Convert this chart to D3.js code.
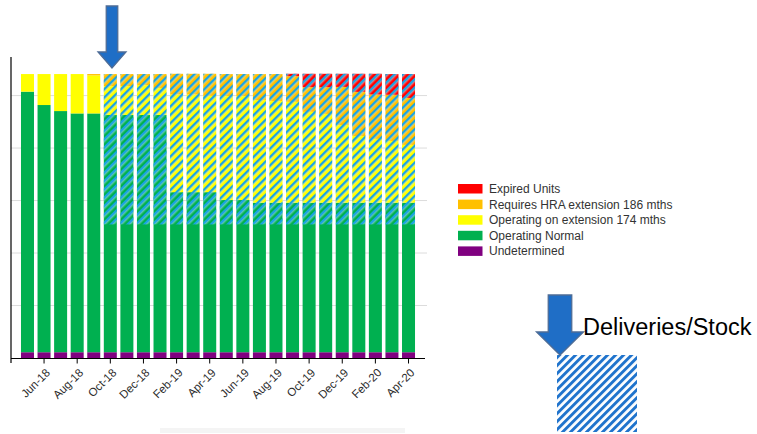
<!DOCTYPE html>
<html>
<head>
<meta charset="utf-8">
<script src="https://cdn.jsdelivr.net/npm/d3@7"></script>
<style>
  html, body { margin: 0; padding: 0; background: #fff; }
  svg { display: block; font-family: "Liberation Sans", Arial, sans-serif; }
</style>
</head>
<body>
<svg id="chart" width="757" height="434"></svg>
<script>
const months = ["May-18","Jun-18","Jul-18","Aug-18","Sep-18","Oct-18","Nov-18","Dec-18",
  "Jan-19","Feb-19","Mar-19","Apr-19","May-19","Jun-19","Jul-19","Aug-19","Sep-19","Oct-19",
  "Nov-19","Dec-19","Jan-20","Feb-20","Mar-20","Apr-20"];
const tickLabels = ["Jun-18","Aug-18","Oct-18","Dec-18","Feb-19","Apr-19","Jun-19","Aug-19",
  "Oct-19","Dec-19","Feb-20","Apr-20"];
const undetermined = [2.2,2.2,2.2,2.2,2.2,2.2,2.2,2.2,2.2,2.2,2.2,2.2,2.2,2.2,2.2,2.2,2.2,2.2,2.2,2.2,2.2,2.2,2.2,2.2];
const operatingNormal = [99.3,94.2,91.9,91.0,91.0,90.4,90.4,90.4,90.4,61.0,61.0,61.0,58.0,58.0,57.0,57.0,57.0,57.0,57.0,57.0,57.0,57.0,57.0,57.0];
const operatingExtension = [6.7,11.8,14.1,15.0,14.5,11.0,11.0,11.4,10.3,37.2,37.2,36.7,39.6,39.6,39.1,38.7,38.4,34.6,33.8,29.6,25.4,24.3,23.5,22.0];
const requiresHRA = [0,0,0,0,0.5,4.6,4.6,4.2,5.3,7.9,7.9,8.4,8.4,8.4,9.9,10.3,9.8,9.4,10.2,14.5,16.8,16.9,17.6,17.9];
const expiredUnits = [0,0,0,0,0,0,0,0,0,0,0,0,0,0,0,0,0.9,5.1,5.1,5.0,6.9,7.9,7.9,9.1];
// Deliveries/Stock hatched overlay: start value per month (null = none), up to the bar top
const stockFrom = [null,null,null,null,null,50.9,50.9,50.9,50.9,50.9,50.9,50.9,50.9,50.9,50.9,50.9,50.9,50.9,50.9,50.9,50.9,50.9,50.9,50.9];
const gridValues = [20,40,60,80,100];
const legendLabels = ["Expired Units","Requires HRA extension 186 mths","Operating on extension 174 mths","Operating Normal","Undetermined"];
const annotationText = "Deliveries/Stock";

const keys = ["undetermined","normal","extension","hra","expired"];
const colors = {undetermined:"#800080", normal:"#00B050", extension:"#FFFF00", hra:"#FFC000", expired:"#FF0000"};
const legendKeys = ["expired","hra","extension","normal","undetermined"];

const rows = months.map((m,i) => ({
  month: m, undetermined: undetermined[i], normal: operatingNormal[i],
  extension: operatingExtension[i], hra: requiresHRA[i], expired: expiredUnits[i], stockFrom: stockFrom[i]
}));

const svg = d3.select("#chart");
const x = d3.scaleBand().domain(months).range([19.2, 416.8]).paddingInner(0.215).paddingOuter(0.1075);
const y = d3.scaleLinear().domain([0, 114.7]).range([358, 57]);

const defs = svg.append("defs");
const p1 = defs.append("pattern").attr("id","hatchChart").attr("patternUnits","userSpaceOnUse")
  .attr("width",5.9).attr("height",10).attr("patternTransform","rotate(45)");
p1.append("rect").attr("x",0).attr("y",0).attr("width",2.6).attr("height",10).attr("fill","#1AA3E3");
p1.append("rect").attr("x",2.6).attr("y",0).attr("width",0.6).attr("height",10).attr("fill","#ffffff").attr("opacity",0.8);
const p2 = defs.append("pattern").attr("id","hatchSquare").attr("patternUnits","userSpaceOnUse")
  .attr("width",5.66).attr("height",10).attr("patternTransform","rotate(45)");
p2.append("rect").attr("width",5.66).attr("height",10).attr("fill","#fff");
p2.append("rect").attr("x",0).attr("y",0).attr("width",2.9).attr("height",10).attr("fill","#1F73CC");

// gridlines
svg.append("g").selectAll("line").data(gridValues).join("line")
  .attr("x1", 11).attr("x2", 427).attr("y1", d => y(d)).attr("y2", d => y(d))
  .attr("stroke","#dcdcdc").attr("stroke-width",1);

// stacked bars
const stacked = d3.stack().keys(keys)(rows);
svg.append("g").selectAll("g").data(stacked).join("g")
  .attr("fill", d => colors[d.key])
  .selectAll("rect").data(d => d.filter(s => s[1] - s[0] > 0)).join("rect")
  .attr("x", d => x(d.data.month)).attr("width", x.bandwidth())
  .attr("y", d => y(d[1])).attr("height", d => y(d[0]) - y(d[1]));

// hatch overlay
const topLayer = stacked[stacked.length-1];
svg.append("g").selectAll("rect").data(rows.filter(r => r.stockFrom != null)).join("rect")
  .attr("x", d => x(d.month)).attr("width", x.bandwidth())
  .attr("y", d => y(topLayer[months.indexOf(d.month)][1]))
  .attr("height", d => y(d.stockFrom) - y(topLayer[months.indexOf(d.month)][1]))
  .attr("fill","url(#hatchChart)");

// axes
svg.append("line").attr("x1",11).attr("x2",11).attr("y1",57).attr("y2",363).attr("stroke","#000").attr("stroke-width",1.2);
const xAxis = svg.append("g").attr("transform","translate(0,358.5)")
  .call(d3.axisBottom(x).tickValues(tickLabels).tickSize(5).tickSizeOuter(0).tickFormat(d => d));
xAxis.select(".domain").attr("d","M11,0H425").attr("stroke","#000").attr("stroke-width",1.2);
xAxis.selectAll(".tick line").attr("stroke","#000");
xAxis.selectAll(".tick text")
  .attr("font-size", 11.5).attr("fill","#2b2b2b").attr("font-family","Liberation Sans, Arial, sans-serif")
  .attr("text-anchor","end").attr("dy","0.35em")
  .attr("transform","translate(4,12) rotate(-45)").attr("y",0).attr("x",0);

// legend
const lg = svg.append("g").attr("transform","translate(458,184)");
const li = lg.selectAll("g").data(legendKeys).join("g").attr("transform",(d,i)=>`translate(0,${i*15.6})`);
li.append("rect").attr("width",24.5).attr("height",9.5).attr("fill", d => colors[d]);
li.append("text").attr("x",31).attr("y",4.8).attr("dy","0.35em").attr("font-size",12).attr("fill","#333")
  .text((d,i) => legendLabels[i]);

// arrows
function arrow(cx, t, shaftW, headTop, headW, tip) {
  const p = d3.path();
  p.moveTo(cx - shaftW/2, t); p.lineTo(cx + shaftW/2, t); p.lineTo(cx + shaftW/2, headTop);
  p.lineTo(cx + headW/2, headTop); p.lineTo(cx, tip); p.lineTo(cx - headW/2, headTop);
  p.lineTo(cx - shaftW/2, headTop); p.closePath();
  return p.toString();
}
svg.append("path").attr("d", arrow(112, 6, 11.5, 52, 28, 68))
  .attr("fill","#1F6EC6").attr("stroke","#4E6C96").attr("stroke-width",1.3);

svg.append("rect").attr("x",160).attr("y",428).attr("width",245).attr("height",5).attr("fill","#f4f4f4");

svg.append("rect").attr("x",557).attr("y",355).attr("width",80).attr("height",77).attr("fill","url(#hatchSquare)");
svg.append("path").attr("d", arrow(560, 295, 23.5, 332, 47, 355))
  .attr("fill","#1F6EC6").attr("stroke","#4E6C96").attr("stroke-width",1.3);
svg.append("text").attr("x",583).attr("y",335).attr("font-size",23.5).attr("fill","#000").text(annotationText);
</script>
</body>
</html>
